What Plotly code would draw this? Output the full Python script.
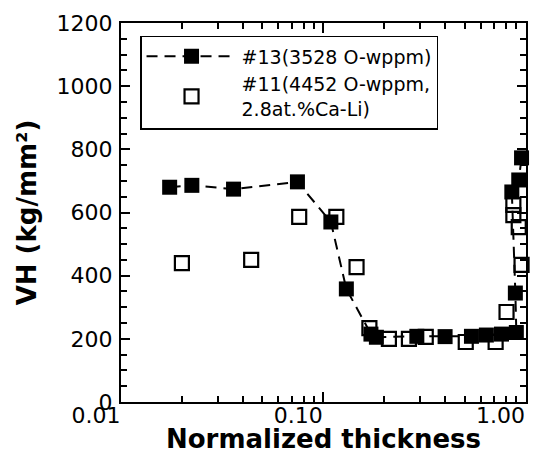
import plotly.graph_objects as go

# Series #13 (filled squares, dashed line)
x13 = [0.0174, 0.0224, 0.036, 0.0745, 0.109, 0.130, 0.172, 0.183, 0.29, 0.40, 0.54, 0.64, 0.76, 0.90, 0.89, 0.855, 0.925, 0.955]
y13 = [680, 686, 674, 697, 570, 358, 215, 205, 208, 207, 208, 212, 215, 220, 345, 665, 703, 773]

# Series #11 (open squares)
x11 = [0.020, 0.044, 0.076, 0.116, 0.146, 0.169, 0.211, 0.265, 0.321, 0.506, 0.711, 0.805, 0.87, 0.87, 0.925, 0.955]
y11 = [440, 450, 586, 586, 427, 234, 200, 200, 206, 190, 190, 285, 624, 592, 554, 434]

name13 = "#13(3528 O-wppm)"
name11 = "#11(4452 O-wppm,<br>2.8at.%Ca-Li)"

xtick_vals = [0.01, 0.1, 1.0]
xtick_text = ["0.01", "0.10", "1.00"]
xminor_vals = [m * d for d in (0.01, 0.1) for m in range(2, 10)]

fig = go.Figure()
fig.add_trace(go.Scatter(
    x=x13, y=y13, name=name13, mode="lines+markers", cliponaxis=False,
    line=dict(color="black", width=2, dash="11px,7px"),
    marker=dict(symbol="square", size=15, color="black"),
))
fig.add_trace(go.Scatter(
    x=x11, y=y11, name=name11, mode="markers", cliponaxis=False,
    marker=dict(symbol="square-open", size=14, color="black", line=dict(width=2.2)),
))

axis_common = dict(
    showgrid=False, zeroline=False, showline=True, linecolor="black", linewidth=2,
    ticks="inside", tickcolor="black", tickwidth=1.8, mirror="allticks",
    tickfont=dict(family="DejaVu Sans", size=22, color="black"),
    automargin=False,
)

fig.update_xaxes(
    type="log", range=[-2, 0.002],
    tickvals=xtick_vals, ticktext=xtick_text, ticklen=10,
    ticklabelshift=-25, ticklabelstandoff=-7,
    minor=dict(tickvals=xminor_vals, ticks="inside", ticklen=6, tickcolor="black", tickwidth=1.8),
    title=dict(text="<b>Normalized thickness</b>", font=dict(family="DejaVu Sans", size=26, color="black"), standoff=8),
    **axis_common,
)
fig.update_yaxes(
    range=[0, 1200], dtick=200, ticklen=9, ticklabelstandoff=2,
    minor=dict(dtick=50, ticks="inside", ticklen=6, tickcolor="black", tickwidth=1.8),
    title=dict(text="<b>VH (kg/mm²)</b>", font=dict(family="DejaVu Sans", size=26, color="black"), standoff=12),
    **axis_common,
)

# page body has an 8px margin, so the figure is sized/offset to compensate
fig.update_layout(
    width=537, height=446,
    margin=dict(l=113, r=19, t=15, b=52),
    paper_bgcolor="white", plot_bgcolor="white",
    showlegend=True,
    legend=dict(
        x=0.047, y=0.966, xanchor="left", yanchor="top",
        bgcolor="white", bordercolor="black", borderwidth=1.5,
        font=dict(family="DejaVu Sans", size=19, color="black"),
        itemwidth=90, tracegroupgap=0,
    ),
)

fig.write_html("out.html")
